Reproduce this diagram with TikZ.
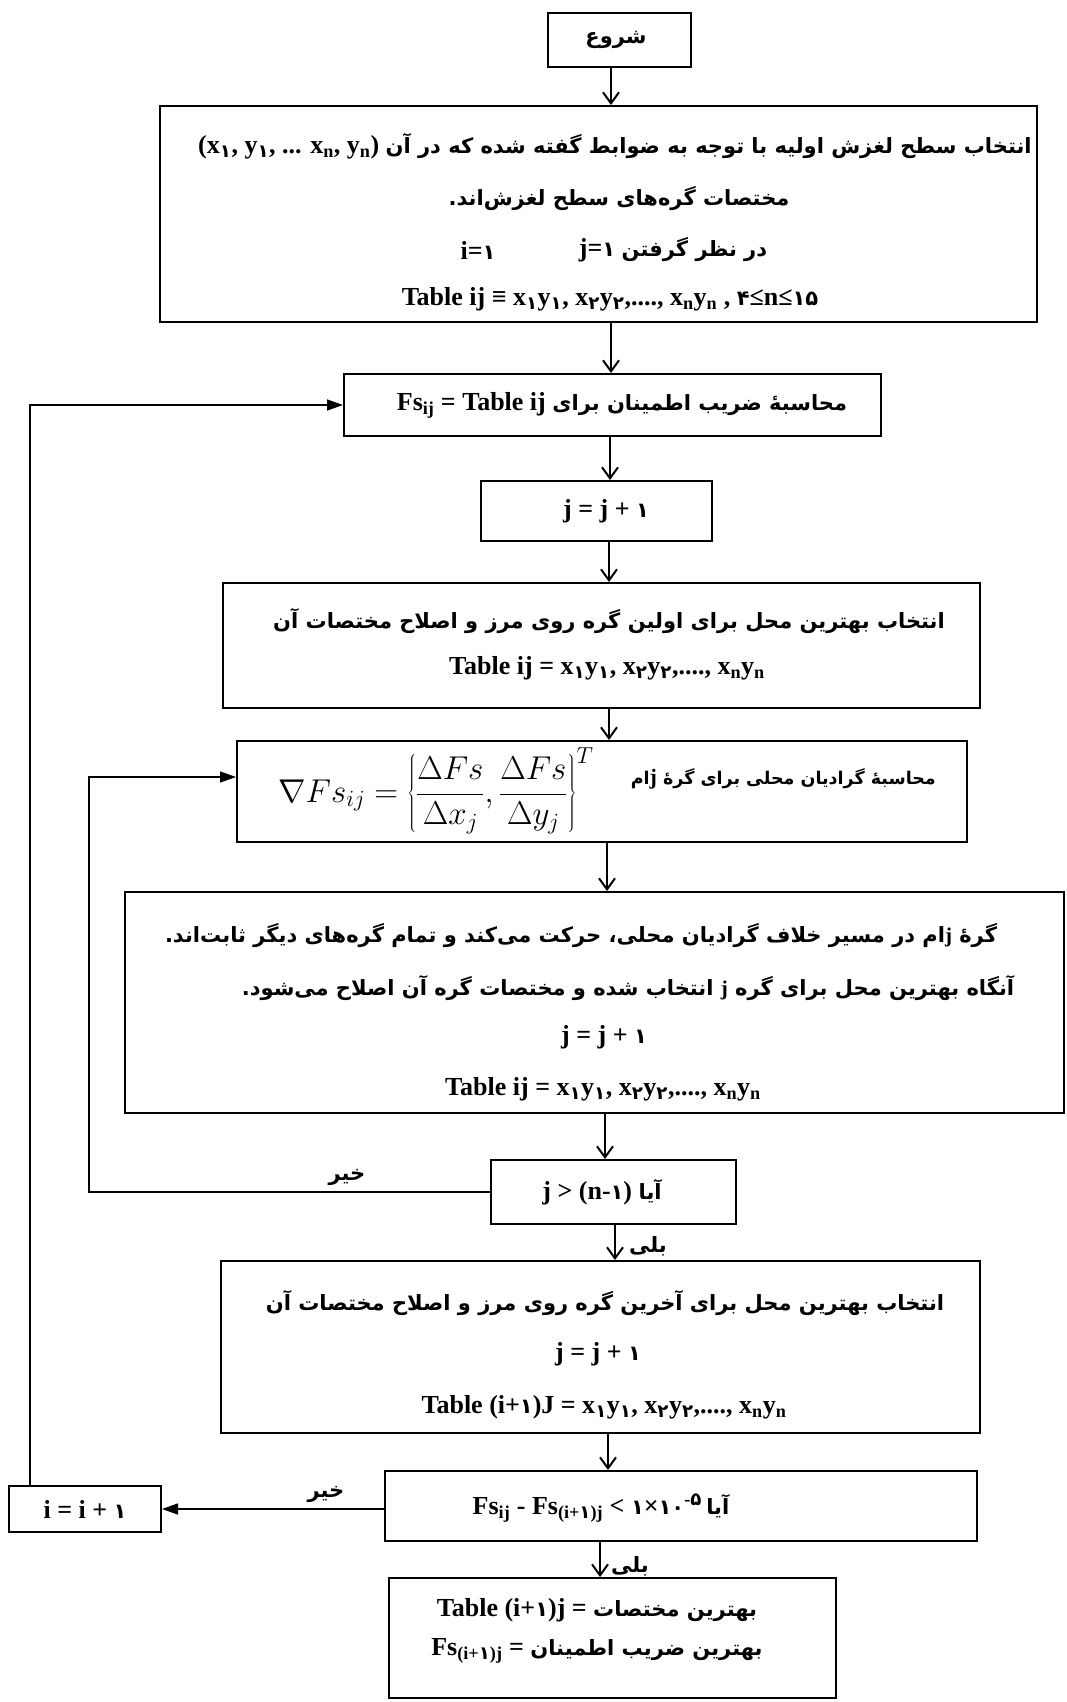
\RequirePackage{fix-cm}
\documentclass[tikz,border=0pt]{standalone}
\usepackage{fontspec}
\setmainfont{Liberation Serif}
\newfontfamily\fa[Script=Arabic]{DejaVu Sans}
\TeXXeTstate=1
\usetikzlibrary{arrows.meta}
\newcommand\FA[1]{{\fa\bfseries\fontsize{21}{25}\selectfont\beginR #1\endR}}
\newcommand\FAs[1]{{\fa\bfseries\fontsize{17.5}{22}\selectfont\beginR #1\endR}}
\newcommand\PD[1]{{\fa\bfseries\fontsize{21}{25}\selectfont #1}}
\newcommand\pd[1]{{\fa\bfseries #1}}
\newcommand\sd[1]{\textsubscript{\fa\bfseries #1}}
\newcommand\su[1]{\textsubscript{#1}}
\newcommand\LA{\bfseries\fontsize{26}{30}\selectfont}
\tikzset{
  box/.style={draw, line width=2pt, inner sep=0pt, rectangle},
  txt/.style={inner sep=0pt, font=\LA},
  dn/.style={line width=2pt, -{Straight Barb[length=11pt,width=16pt,line width=2pt]}},
  fl/.style={line width=1.4pt, -{Triangle[length=16pt,width=11pt]}},
}
\begin{document}
\begin{tikzpicture}[x=1pt,y=-1pt]
\fill[white] (0,0) rectangle (1067,1702);
\useasboundingbox (0,0) rectangle (1067,1702);
% boxes
\node[box, minimum width=143pt, minimum height=54pt] (start) at (619.5,40) {};
\node[box, minimum width=877pt, minimum height=216pt] (b1) at (598.5,214) {};
\node[box, minimum width=537pt, minimum height=62pt] (b2) at (612.5,405) {};
\node[box, minimum width=231pt, minimum height=60pt] (b3) at (596.5,511) {};
\node[box, minimum width=757pt, minimum height=125pt] (b4) at (601.5,645.5) {};
\node[box, minimum width=730pt, minimum height=101pt] (b5) at (602,791.5) {};
\node[box, minimum width=939pt, minimum height=221pt] (b6) at (594.5,1002.5) {};
\node[box, minimum width=245pt, minimum height=64pt] (b7) at (613.5,1192) {};
\node[box, minimum width=759pt, minimum height=172pt] (b8) at (600.5,1347) {};
\node[box, minimum width=592pt, minimum height=70pt] (b9) at (681,1506) {};
\node[box, minimum width=152pt, minimum height=46pt] (bi) at (85,1509) {};
\node[box, minimum width=447pt, minimum height=120pt] (fin) at (612.5,1638) {};
% texts
\node[txt] (t0) at (616,40) {\FA{شروع}};
\node[txt] (t1a) at (615,146) {(x\sd{۱}, y\sd{۱}, ... x\su{n}, y\su{n})\ \FA{انتخاب سطح لغزش اولیه با توجه به ضوابط گفته شده که در آن}};
\node[txt] (t1b) at (619,199) {\FA{مختصات گره‌های سطح لغزش‌اند.}};
\node[txt] (t1c) at (478,250) {i=\PD{۱}};
\node[txt] (t1d) at (673,250) {j=\PD{۱}\ \FA{در نظر گرفتن}};
\node[txt] (t1e) at (610,299) {Table ij ≡ x\sd{۱}y\sd{۱}, x\sd{۲}y\sd{۲},...., x\su{n}y\su{n} , \PD{۴}≤n≤\PD{۱۵}};
\node[txt] (t2) at (622,405) {Fs\su{ij} = Table ij\ \FA{محاسبهٔ ضریب اطمینان برای}};
\node[txt] (t3) at (606,511) {j = j + \PD{۱}};
\node[txt] (t4a) at (609,621) {\FA{انتخاب بهترین محل برای اولین گره روی مرز و اصلاح مختصات آن}};
\node[txt] (t4b) at (607,668) {Table ij = x\sd{۱}y\sd{۱}, x\sd{۲}y\sd{۲},...., x\su{n}y\su{n}};
\node[txt, anchor=west] (t5m) at (278,791) {\mdseries\fontsize{33}{38}\selectfont$\displaystyle\nabla Fs_{ij} = \left\{\frac{\Delta Fs}{\Delta x_j},\frac{\Delta Fs}{\Delta y_j}\right\}^{T}$};
\node[txt, anchor=east] (t5p) at (936,779) {\FAs{محاسبهٔ گرادیان محلی برای گرهٔ {\bfseries\fontsize{22}{26}\selectfont\rmfamily j}ام}};
\node[txt] (t6a) at (581,936) {\FA{گرهٔ {\rmfamily j}ام در مسیر خلاف گرادیان محلی، حرکت می‌کند و تمام گره‌های دیگر ثابت‌اند.}};
\node[txt] (t6b) at (628,988) {\FA{آنگاه بهترین محل برای گره {\rmfamily j} انتخاب شده و مختصات گره آن اصلاح می‌شود.}};
\node[txt] (t6c) at (604,1037) {j = j + \PD{۱}};
\node[txt] (t6d) at (603,1089) {Table ij = x\sd{۱}y\sd{۱}, x\sd{۲}y\sd{۲},...., x\su{n}y\su{n}};
\node[txt] (t7) at (602,1192) {j > (n-\PD{۱})\ \FA{آیا}};
\node[txt] (t8a) at (605,1303) {\FA{انتخاب بهترین محل برای آخرین گره روی مرز و اصلاح مختصات آن}};
\node[txt] (t8b) at (598,1354) {j = j + \PD{۱}};
\node[txt] (t8c) at (604,1407) {Table (i+\PD{۱})J = x\sd{۱}y\sd{۱}, x\sd{۲}y\sd{۲},...., x\su{n}y\su{n}};
\node[txt] (t9) at (601,1508) {Fs\su{ij} - Fs\su{(i+\pd{۱})j} < \PD{۱}×\PD{۱۰}\textsuperscript{-\pd{۵}}\,\FA{آیا}};
\node[txt] (ti) at (85,1509) {i = i + \PD{۱}};
\node[txt] (tfa) at (597,1610) {Table (i+\PD{۱})j = \FA{بهترین مختصات}};
\node[txt] (tfb) at (597,1651) {Fs\su{(i+\pd{۱})j} = \FA{بهترین ضریب اطمینان}};
% labels
\node[txt] (no1) at (347,1177) {\FA{خیر}};
\node[txt] (yes1) at (648,1246) {\FA{بلی}};
\node[txt] (no2) at (326,1494) {\FA{خیر}};
\node[txt] (yes2) at (630,1566) {\FA{بلی}};
% main arrows
\coordinate (x1) at (611,0);
\coordinate (x2) at (610,0);
\coordinate (x3) at (609,0);
\coordinate (x4) at (607,0);
\coordinate (x5) at (605,0);
\coordinate (x6) at (615,0);
\coordinate (x7) at (608,0);
\coordinate (x8) at (600,0);
\draw[dn] (start.south -| x1) -- (b1.north -| x1);
\draw[dn] (b1.south -| x1) -- (b2.north -| x1);
\draw[dn] (b2.south -| x2) -- (b3.north -| x2);
\draw[dn] (b3.south -| x3) -- (b4.north -| x3);
\draw[dn] (b4.south -| x3) -- (b5.north -| x3);
\draw[dn] (b5.south -| x4) -- (b6.north -| x4);
\draw[dn] (b6.south -| x5) -- (b7.north -| x5);
\draw[dn] (b7.south -| x6) -- (b8.north -| x6);
\draw[dn] (b8.south -| x7) -- (b9.north -| x7);
\draw[dn] (b9.south -| x8) -- (fin.north -| x8);
% loops
\coordinate (lo) at (30,0);
\draw[fl] (bi.north -| lo) |- (b2.west);
\coordinate (li) at (89,777);
\draw[fl] (b7.west) -| (li) -- (li -| b5.west);
\draw[fl] (b9.west |- bi.east) -- (bi.east);
\end{tikzpicture}
\end{document}
